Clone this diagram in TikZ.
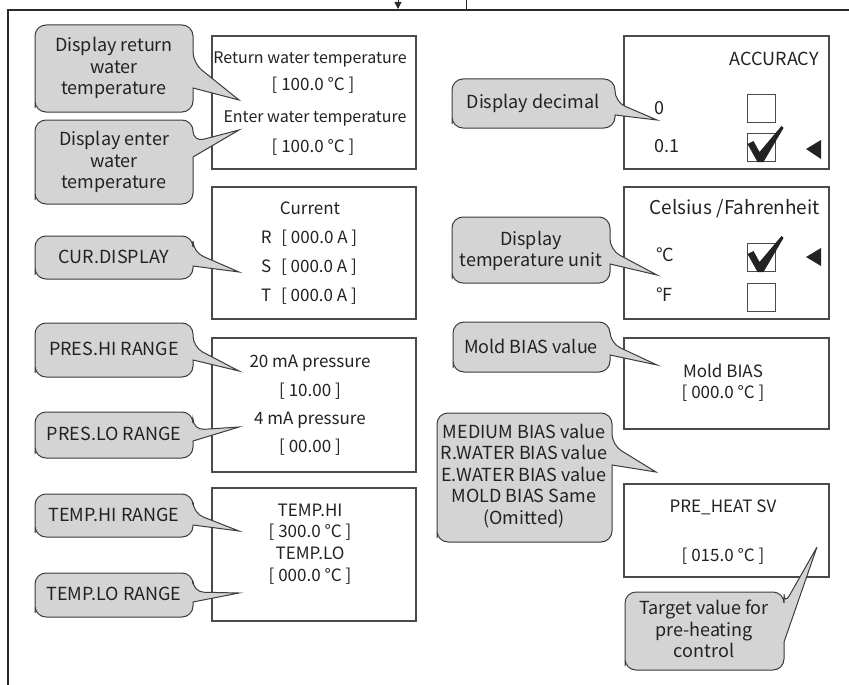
\documentclass[tikz,border=0pt]{standalone}
\usepackage{fontspec}
\usepackage{graphicx}
\setmainfont{Noto Sans CJK SC}
\usetikzlibrary{arrows.meta}
\definecolor{cfill}{HTML}{D4D4D4}
\definecolor{cline}{HTML}{3C3C3C}
\definecolor{bline}{HTML}{4A4A4A}
\definecolor{tcol}{HTML}{222222}
\definecolor{fcol}{HTML}{2A2A2A}
% L T R B y1 y2 tipx tipy
\newcommand\mycallout[8]{%
  \filldraw[cbox] (#1,#4-15) [rounded corners=11pt] -- (#1,#2) -- (#3,#2) -- (#3,#5) [sharp corners] -- (#7,#8) -- (#3,#6) [rounded corners=11pt] -- (#3,#4) -- (#1,#4) -- cycle;}
\newcommand\mycheck[1]{%
  \begin{scope}[shift={(#1.north west)}]
    \fill[tcol] (1,11) -- (7,8) -- (13,19) -- (35,-7) -- (37,-5) -- (17,29) -- (11,29) -- cycle;
  \end{scope}}
\begin{document}
\begin{tikzpicture}[x=1pt,y=-1pt,
  box/.style={draw=bline, line width=1.1pt, inner sep=0pt},
  cbox/.style={fill=cfill, draw=cline, line width=1pt},
  txt/.style={font=\fontsize{17}{21}\selectfont, inner sep=0pt, text=tcol, text height=12pt, text depth=4pt},
  ctxt/.style={font=\fontsize{18}{21.5}\selectfont, inner sep=0pt, align=center, text=tcol},
  frameline/.style={draw=fcol, line width=2pt},
  chk/.style={draw=bline, line width=1pt, minimum width=28pt, minimum height=28pt, inner sep=0pt},
]
\useasboundingbox (0,0) rectangle (849,685);
\fill[white] (0,0) rectangle (849,685);

% frame and incoming lines
\coordinate (fbl) at (8,685);
\coordinate (ftl) at (8,10);
\coordinate (ftr) at (849,10);
\draw[frameline] (fbl) -- (ftl) -- (ftr);
\coordinate (ain) at (398,0);
\coordinate (aout) at (398,9);
\draw[fcol, line width=1pt, -{Triangle[length=7pt,width=7pt]}] (ain) -- (aout);
\coordinate (lin) at (466,0);
\coordinate (lout) at (466,10);
\draw[fcol, line width=1pt] (lin) -- (lout);

% boxes
\node[box, minimum width=204pt, minimum height=133pt] (b1) at (314,102.5) {};
\node[box, minimum width=204pt, minimum height=132pt] (b2) at (314,253) {};
\node[box, minimum width=204pt, minimum height=134pt] (b3) at (314,405) {};
\node[box, minimum width=204pt, minimum height=133pt] (b4) at (314,554.5) {};
\node[box, minimum width=205pt, minimum height=133pt] (a1) at (726.5,102.5) {};
\node[box, minimum width=205pt, minimum height=132pt] (a2) at (726.5,253) {};
\node[box, minimum width=205pt, minimum height=91pt] (a3) at (726.5,383.5) {};
\node[box, minimum width=205pt, minimum height=93pt] (a4) at (726.5,530.5) {};

% box texts
\node[txt, font=\fontsize{16}{20}\selectfont] (t1a) at (310,60) {Return water temperature};
\node[txt] (t1b) at (313,87) {[ 100.0 °C ]};
\node[txt, font=\fontsize{16}{20}\selectfont] (t1c) at (315,118) {Enter water temperature};
\node[txt] (t1d) at (313,148) {[ 100.0 °C ]};
\node[txt] (t2a) at (310,210) {Current};
\node[txt] (t2b) at (309,239) {R\hspace{6pt} [ 000.0 A ]};
\node[txt] (t2c) at (309,268) {S\hspace{6pt} [ 000.0 A ]};
\node[txt] (t2d) at (309,297) {T\hspace{6pt} [ 000.0 A ]};
\node[txt] (t3a) at (310,363) {20 mA pressure};
\node[txt] (t3b) at (310,392) {[ 10.00 ]};
\node[txt] (t3c) at (310,420) {4 mA pressure};
\node[txt] (t3d) at (310,448) {[ 00.00 ]};
\node[txt] (t4a) at (310,512) {TEMP.HI};
\node[txt] (t4b) at (310,533) {[ 300.0 °C ]};
\node[txt] (t4c) at (310,555) {TEMP.LO};
\node[txt] (t4d) at (310,577) {[ 000.0 °C ]};

\node[txt, font=\fontsize{18}{21}\selectfont, anchor=east] (acc) at (819,62) {ACCURACY};
\node[txt, font=\fontsize{18}{21}\selectfont, anchor=west] (z0) at (654,110) {0};
\node[txt, font=\fontsize{18}{21}\selectfont, anchor=west] (z1) at (654,148) {0.1};
\node[txt, font=\fontsize{19}{21}\selectfont, anchor=east] (cf) at (820,210) {Celsius /Fahrenheit};
\node[txt, font=\fontsize{18}{21}\selectfont, anchor=west] (dc) at (656,257) {°C};
\node[txt, font=\fontsize{18}{21}\selectfont, anchor=west] (df) at (656,297) {°F};
\node[txt] (mb1) at (723,373) {Mold BIAS};
\node[txt] (mb2) at (723,394) {[ 000.0 °C ]};
\node[txt] (ph1) at (723,508) {PRE\_HEAT SV};
\node[txt] (ph2) at (723,557) {[ 015.0 °C ]};

% checkboxes
\node[chk] (k1) at (761,108) {};
\node[chk] (k2) at (761,147.5) {};
\node[chk] (k3) at (761,257.5) {};
\node[chk] (k4) at (761,297) {};
\mycheck{k2}
\mycheck{k3}
\fill[tcol] (806,149) -- (821,140) -- (821,159) -- cycle;
\fill[tcol] (806,257) -- (821,248) -- (821,266) -- cycle;

% callouts left
\mycallout{35}{25}{193}{112}{63}{88}{239}{100}
\node[ctxt] (c1) at (114,68) {Display return\\water\\temperature};
\mycallout{35}{120}{193}{204}{142}{157}{239}{130}
\node[ctxt] (c2) at (114,162) {Display enter\\water\\temperature};
\mycallout{35}{236}{193}{279}{252}{266}{239}{272}
\node[ctxt] (c3) at (114,257) {CUR.DISPLAY};
\mycallout{35}{323}{193}{377}{347}{360}{239}{371}
\node[ctxt] (c4) at (114,349) {PRES.HI RANGE};
\mycallout{35}{412}{193}{458}{430}{441}{239}{427}
\node[ctxt] (c5) at (114,434) {PRES.LO RANGE};
\mycallout{35}{494}{193}{537}{513}{525}{239}{531}
\node[ctxt] (c6) at (114,515) {TEMP.HI RANGE};
\mycallout{35}{573}{193}{617}{592}{602}{239}{593}
\node[ctxt] (c7) at (114,594) {TEMP.LO RANGE};

% callouts right
\mycallout{452}{79}{615}{128}{102}{115}{657}{120}
\node[ctxt] (d1) at (533,103) {Display decimal};
\mycallout{452}{217}{610}{283}{250}{264}{657}{275}
\node[ctxt] (d2) at (531,251) {Display\\temperature unit};
\mycallout{453}{322}{610}{372}{343}{355}{657}{365}
\node[ctxt] (d3) at (531,346) {Mold BIAS value};
\mycallout{437}{413}{612}{542}{445}{465}{656}{472}
\node[ctxt] (d4) at (524,476) {MEDIUM BIAS value\\R.WATER BIAS value\\E.WATER BIAS value\\MOLD BIAS Same\\(Omitted)};
\mycallout{625}{592}{784}{670}{605}{642}{817}{547}
\node[ctxt] (d5) at (704,629) {Target value for\\pre-heating\\control};
\end{tikzpicture}
\end{document}
